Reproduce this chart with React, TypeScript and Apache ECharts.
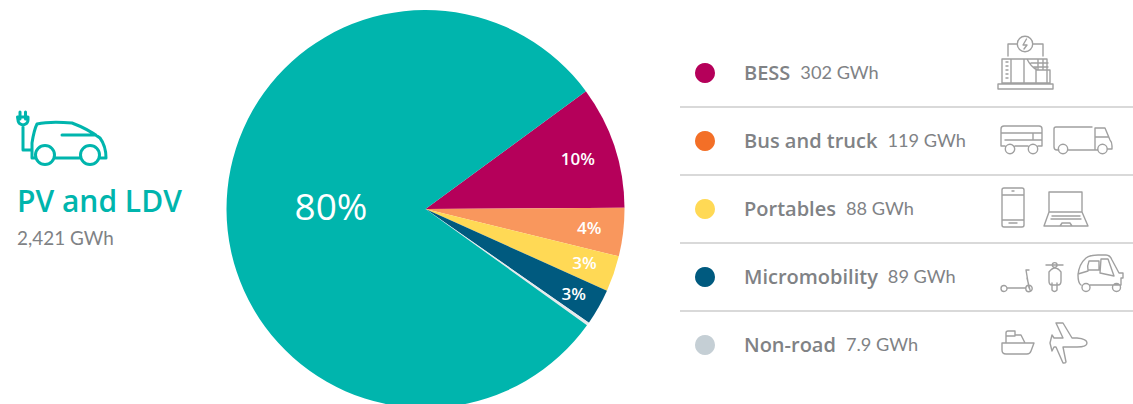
import React, { useEffect, useRef } from "react";
import * as echarts from "echarts";

const categories = ["BESS", "Bus and truck", "Portables", "Micromobility", "Non-road", "PV and LDV"];
const values = [302, 119, 88, 89, 7.9, 2421];
const valueLabels = ["302 GWh", "119 GWh", "88 GWh", "89 GWh", "7.9 GWh", "2,421 GWh"];
const percentLabels = ["10%", "4%", "3%", "3%", "", "80%"];
const sliceColors = ["#B5005A", "#F9975D", "#FFD955", "#005A7F", "#E6EAEC", "#00B5AD"];
const legendColors = ["#B5005A", "#F36F27", "#FFD955", "#005A7F", "#C5CFD5"];
const labelOffsets = [[55, -18], [62, 7], [62, 20], [59, 34], [0, 0], [8, -4]];
const FONT = "Lato, 'Noto Sans', sans-serif";
const FONT2 = "'Open Sans', Lato, sans-serif";

const circle = (cx: number, cy: number, r: number) =>
  `M${cx - r} ${cy}A${r} ${r} 0 1 0 ${cx + r} ${cy}A${r} ${r} 0 1 0 ${cx - r} ${cy}Z`;

const ICONS: Record<string, string> = {
  car:
    "M20 119V112M25.5 119V112M17.5 117H28V120Q28 124 23 125Q18 124 18 120Z M23 125V150H31 M32 158V143Q34 130 37 124Q50 121 72 123Q88 129 100 138Q106 146 106 158H99 M80 158H55 M36 158H32 M62 135H96" +
    circle(45, 155, 9.5) + circle(90, 155, 9.5),
  bess:
    circle(1025, 44, 7.7) +
    "M1026.5 39L1023 45H1027L1024 49 M1017 44H1008V56 M1033 44H1043V56 M1002 59H1047V83H1002Z M998 84H1053V89H998Z M1011 59V83 M1024 59V83 M1036 68V83 M1027 59Q1031 67 1037 70H1050V83H1037 M1031 63H1048 M1034 67H1048 M1038 59V70 M1043 59V70 M1006 62H1008 M1006 66H1008 M1006 70H1008 M1006 74H1008 M1006 78H1008",
  bus:
    "M1005 146H1001V129Q1001 126 1004 126H1039Q1042 126 1042 129V146H1038 M1028 146H1015 M1001 133H1042 M1005 140H1042 M1033 133V140" +
    circle(1010, 149, 4.7) + circle(1033, 149, 4.7),
  truck:
    "M1059 150H1057Q1054 150 1054 147V129Q1054 127 1056 127H1092 M1068 150H1097 M1095 150V128H1105L1110 140Q1112 142 1112 146V149H1108 M1095 137H1108" +
    circle(1063, 149, 4.7) + circle(1102.5, 149, 4.7),
  phone:
    "M1004 188H1022Q1024 188 1024 190V225Q1024 227 1022 227H1004Q1002 227 1002 225V190Q1002 188 1004 188Z M1002 195H1024 M1002 220H1024 M1009 223H1017 M1012 191H1014",
  laptop:
    "M1049 212V192H1082V212 M1049 212L1044 226H1088L1082 212Z M1052 216H1080 M1051 219H1081 M1060 226L1062 223H1070L1072 226",
  kick:
    "M1007 288H1025 M1029 288L1026 270H1029 M1030 290L1027 278" + circle(1004, 288.5, 3) + circle(1029, 288.5, 3.2),
  vespa:
    "M1046 265H1063 M1049 272V281Q1049 285 1052 285H1058Q1061 285 1061 281V272Q1058 268 1055 268Q1052 268 1049 272Z M1052 283V290Q1054.5 293 1057 290V283" +
    circle(1054.7, 265, 2.4),
  tuk:
    "M1081 285Q1078 283 1078 275Q1079 264 1086 258Q1090 255 1098 255H1106Q1110 255 1112 260L1119 273H1123V278H1121V285H1119 M1114 285H1090 M1089 261H1099V270L1088 270Q1087 266 1089 261Z M1101 259H1108L1114 276L1100 273Z M1078 274L1088 271 M1118 285H1110" +
    circle(1086, 287.5, 4) + circle(1116.5, 287.5, 4),
  ship:
    "M1002 343H1034L1031 351Q1030 354 1027 354H1006Q1002 354 1002 350Z M1006 343V333Q1006 331 1008 331H1015V335H1021L1025 343 M1006 336H1015",
  plane:
    "M1077 338Q1087 339 1087 343Q1087 347 1077 347H1063L1066 362Q1066 363 1064 363H1063L1056 347H1054L1052 351H1052L1050 343L1052 335H1052L1054 338H1063L1056 323H1063L1072 338Z",
};

Object.entries(ICONS).forEach(([name, d]) => {
  echarts.graphic.registerShape("icon_" + name, echarts.graphic.extendPath(d as any, {}) as any);
});

export default function App() {
  const ref = useRef<HTMLDivElement>(null);
  useEffect(() => {
    const chart = echarts.init(ref.current!, undefined, { renderer: "svg" });
    const separators = [107, 175, 243, 311].map((y) => ({
      type: "line",
      shape: { x1: 680, y1: y, x2: 1133, y2: y },
      style: { stroke: "#B3B3B3", lineWidth: 1 },
      silent: true,
    }));
    const icons = Object.keys(ICONS).map((name) => ({
      type: "icon_" + name,
      silent: true,
      style:
        name === "car"
          ? { fill: "none", stroke: "#00B5AD", lineWidth: 3, lineJoin: "round", lineCap: "round" }
          : { fill: "none", stroke: "#A0A0A0", lineWidth: 1.4, lineJoin: "round", lineCap: "round" },
    }));
    chart.setOption({
      animation: false,
      backgroundColor: "#ffffff",
      legend: {
        orient: "vertical",
        left: 695,
        top: 62,
        itemWidth: 20,
        itemHeight: 20,
        itemGap: 46,
        icon: "circle",
        selectedMode: false,
        padding: 0,
        data: categories.slice(0, 5).map((name, i) => ({
          name,
          itemStyle: { color: legendColors[i] },
        })),
        formatter: (name: string) => `{n|${name}}{v|${valueLabels[categories.indexOf(name)]}}`,
        textStyle: {
          fontFamily: FONT2,
          rich: {
            n: { fontFamily: FONT2, fontSize: 20, fontWeight: 600, color: "#808285", padding: [0, 10, 2, 24], lineHeight: 20 },
            v: { fontFamily: FONT, fontSize: 18.2, fontWeight: 400, color: "#808285", padding: [0, 0, 2, 0], lineHeight: 20 },
          },
        },
      },
      graphic: [
        ...separators,
        ...icons,
        {
          type: "text",
          x: 17,
          y: 185,
          silent: true,
          style: { text: categories[5], fontFamily: FONT2, fontSize: 30, fontWeight: 600, fill: "#00B5AD" },
        },
        {
          type: "text",
          x: 17,
          y: 228,
          silent: true,
          style: { text: valueLabels[5], fontFamily: FONT, fontSize: 18.9, fontWeight: 400, fill: "#808285" },
        },
      ],
      series: [
        {
          type: "pie",
          center: [425.5, 209],
          radius: [0, 199],
          startAngle: 36.3,
          clockwise: true,
          silent: true,
          avoidLabelOverlap: false,
          data: categories.map((name, i) => ({
            name,
            value: values[i],
            itemStyle: { color: sliceColors[i] },
            label: {
              show: percentLabels[i] !== "",
              formatter: percentLabels[i],
              position: "inside",
              color: "#ffffff",
              fontFamily: FONT2,
              fontWeight: i === 5 ? 500 : 600,
              fontSize: i === 5 ? 37 : 17,
            },
          })),
          labelLine: { show: false },
          labelLayout: (p: any) => ({ dx: labelOffsets[p.dataIndex][0], dy: labelOffsets[p.dataIndex][1] }),
        },
      ],
    });
    return () => chart.dispose();
  }, []);
  return <div ref={ref} style={{ position: "fixed", left: 0, top: 0, width: 1133, height: 404 }} />;
}
